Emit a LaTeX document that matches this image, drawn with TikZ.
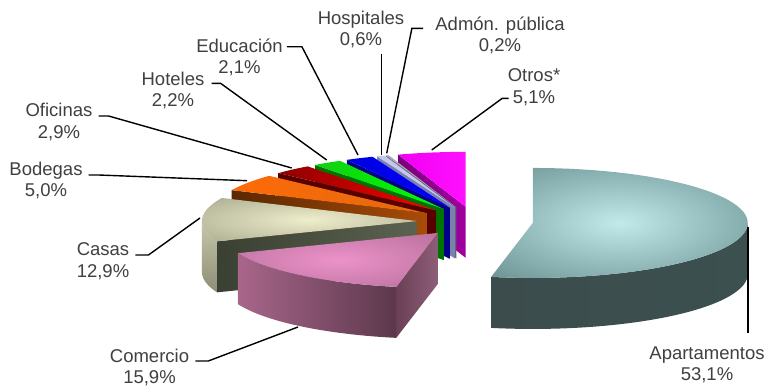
\documentclass[tikz,border=0pt]{standalone}
\usepackage{fontspec}
\setmainfont{Liberation Sans}
\usetikzlibrary{calc}
\definecolor{txtgray}{HTML}{404040}
\definecolor{aptHi}{HTML}{C2EAEA}
\definecolor{aptLo}{HTML}{62888A}
\definecolor{aptS1}{HTML}{3C4C4C}
\definecolor{aptS2}{HTML}{2A3535}
\definecolor{aptS3}{HTML}{3C5050}
\definecolor{comHi}{HTML}{EC92CA}
\definecolor{comLo}{HTML}{B26C96}
\definecolor{comS1}{HTML}{A8668A}
\definecolor{comS2}{HTML}{B87A9E}
\definecolor{comS3}{HTML}{5C384C}
\definecolor{comW1}{HTML}{6A4056}
\definecolor{comW2}{HTML}{8E5E78}
\definecolor{casHi}{HTML}{EEEECC}
\definecolor{casLo}{HTML}{A4A48A}
\definecolor{casS1}{HTML}{C6C6AC}
\definecolor{casS2}{HTML}{8E8E76}
\definecolor{casW1}{HTML}{3A4032}
\definecolor{casW2}{HTML}{5C6250}
\definecolor{bodT1}{HTML}{FF6A08}
\definecolor{bodT2}{HTML}{C65A1E}
\definecolor{bodT3}{HTML}{E06A10}
\definecolor{bodW1}{HTML}{5A2800}
\definecolor{bodW2}{HTML}{A84C08}
\definecolor{ofiT1}{HTML}{8C0000}
\definecolor{ofiT2}{HTML}{FF0000}
\definecolor{ofiW}{HTML}{580000}
\definecolor{hotT1}{HTML}{10D010}
\definecolor{hotT2}{HTML}{00FF00}
\definecolor{hotW}{HTML}{007400}
\definecolor{eduT1}{HTML}{0000E0}
\definecolor{eduT2}{HTML}{0000FF}
\definecolor{eduW}{HTML}{000088}
\definecolor{hosT}{HTML}{C4C8EE}
\definecolor{hosW}{HTML}{7A80B0}
\definecolor{admT}{HTML}{A8A8B8}
\definecolor{admW}{HTML}{606070}
\definecolor{otrT1}{HTML}{F000F0}
\definecolor{otrT2}{HTML}{FF10FF}
\definecolor{otrW1}{HTML}{7A007A}
\definecolor{otrW2}{HTML}{A000A0}
\pgfdeclareradialshading{aptTop}{\pgfpoint{0bp}{0bp}}{color(0bp)=(aptHi); color(40bp)=(aptLo); color(50bp)=(aptLo)}
\pgfdeclareradialshading{comTop}{\pgfpoint{0bp}{0bp}}{color(0bp)=(comHi); color(40bp)=(comLo); color(50bp)=(comLo)}
\pgfdeclareradialshading{casTop}{\pgfpoint{0bp}{0bp}}{color(0bp)=(casHi); color(40bp)=(casLo); color(50bp)=(casLo)}
\newcommand\slicecenter[1]{\pgfmathsetmacro\pcx{475+58.05*cos(#1)}\pgfmathsetmacro\pcy{221.5-14.85*sin(#1)}}
\newcommand\topface[3]{\shade[#3] (\pcx,\pcy) -- plot[domain=#1:#2,samples=60] ({\pcx+215*cos(\x)},{\pcy-55*sin(\x)}) -- cycle;}
\newcommand\wallface[2]{\shade[#2] (\pcx,\pcy) -- ({\pcx+215*cos(#1)},{\pcy-55*sin(#1)}) -- ++(0,51) -- (\pcx,{\pcy+51}) -- cycle;}
\newcommand\sideface[3]{\shade[#3] plot[domain=#1:#2,samples=60] ({\pcx+215*cos(\x)},{\pcy-55*sin(\x)}) -- plot[domain=#2:#1,samples=60] ({\pcx+215*cos(\x)},{\pcy+51-55*sin(\x)}) -- cycle;}
\begin{document}
\begin{tikzpicture}[x=1pt,y=-1pt,
  lbl/.style={font=\fontsize{18.5}{21.5}\selectfont, align=center, inner sep=0pt, anchor=north, text=txtgray},
  leader/.style={draw=black, line width=1.4pt}]
\fill[white] (0,0) rectangle (768,386);
\useasboundingbox (0,0) rectangle (768,386);
% Otros
\slicecenter{99.18}
\wallface{108.36}{left color=otrW1,right color=otrW2}
\topface{90}{108.36}{left color=otrT1,right color=otrT2}
% Admon
\slicecenter{108.72}
\wallface{109.08}{left color=admW,right color=admW}
\topface{108.36}{109.08}{left color=admT,right color=admT}
% Hospitales
\slicecenter{110.16}
\wallface{111.24}{left color=hosW,right color=hosW}
\topface{109.08}{111.24}{left color=hosT,right color=hosT}
% Educacion
\slicecenter{115.02}
\wallface{118.8}{left color=eduW,right color=eduW}
\topface{111.24}{118.8}{left color=eduT1,right color=eduT2}
% Hoteles
\slicecenter{122.76}
\wallface{126.72}{left color=hotW,right color=hotW}
\topface{118.8}{126.72}{left color=hotT1,right color=hotT2}
% Oficinas
\slicecenter{131.94}
\wallface{137.16}{left color=ofiW,right color=ofiW}
\topface{126.72}{137.16}{left color=ofiT1,right color=ofiT2}
% Bodegas
\slicecenter{146.16}
\wallface{155.16}{left color=bodW1,right color=bodW2}
\topface{137.16}{155.16}{left color=bodT1,middle color=bodT2,right color=bodT3}
% Casas
\slicecenter{178.38}
\sideface{180}{201.6}{top color=casS1,bottom color=casS2}
\wallface{201.6}{left color=casW1,right color=casW2}
\topface{155.16}{201.6}{shading=casTop}
% Comercio
\slicecenter{-129.78}
\sideface{-158.4}{-101.16}{left color=comS1,middle color=comS2,right color=comS3}
\wallface{-101.16}{left color=comW1,right color=comW2}
\topface{-158.4}{-101.16}{shading=comTop}
% Apartamentos
\slicecenter{-5.58}
\sideface{-101.16}{0}{left color=aptS1,middle color=aptS2,right color=aptS3}
\topface{-101.16}{90}{shading=aptTop}
% labels
\node[lbl] (lblApt) at (707,346.5) {Apartamentos\\53,1\%};
\node[lbl] (lblCom) at (149.5,348.5) {Comercio\\15,9\%};
\node[lbl] (lblCas) at (103,242.5) {Casas\\12,9\%};
\node[lbl] (lblBod) at (46,161.5) {Bodegas\\5,0\%};
\node[lbl] (lblOfi) at (59,103.2) {Oficinas\\2,9\%};
\node[lbl] (lblHot) at (173,71.5) {Hoteles\\2,2\%};
\node[lbl] (lblEdu) at (239.5,38.2) {Educación\\2,1\%};
\node[lbl] (lblHos) at (361,10.5) {Hospitales\\0,6\%};
\node[lbl] (lblAdm) at (500,16.5) {Admón. pública\\0,2\%};
\node[lbl] (lblOtr) at (534,68.5) {Otros*\\5,1\%};
% leader ends
\coordinate (aptE) at (748,227);
\coordinate (comE) at (298,327);
\coordinate (casE) at (200,218);
\coordinate (bodE) at (247,180.7);
\coordinate (ofiE) at (291.7,168);
\coordinate (hotE) at (326.7,160);
\coordinate (eduE) at (358,155);
\coordinate (hosE) at (381.7,155);
\coordinate (admE) at (386.7,153.3);
\coordinate (otrE) at (431.7,150);
% leaders
\draw[leader] ($(lblBod.north east)+(6,13.5)$) -- ++(10,0) -- (bodE);
\draw[leader] ($(lblOfi.north east)+(6,12.8)$) -- ++(10,0) -- (ofiE);
\draw[leader] ($(lblHot.north east)+(7,11.8)$) -- ++(9,0) -- (hotE);
\draw[leader] ($(lblEdu.north east)+(4,8.5)$) -- ++(15,0) -- (eduE);
\draw[leader] ($(lblCas.north east)+(6,12.5)$) -- ++(13,0) -- (casE);
\draw[leader] ($(lblCom.north east)+(6,12.5)$) -- ++(13,0) -- (comE);
\draw[leader] ($(lblAdm.north west)+(-12,11.8)$) -- ++(-11.3,0) -- (admE);
\draw[leader] ($(lblOtr.north west)+(1,29.8)$) -- ++(-6.3,0) -- (otrE);
\draw[leader] ($(hosE |- lblHos.south)+(0,5.5)$) -- (hosE);
\draw[leader] (aptE) -- ($(aptE |- lblApt.north)+(0,-14)$);
\end{tikzpicture}
\end{document}
